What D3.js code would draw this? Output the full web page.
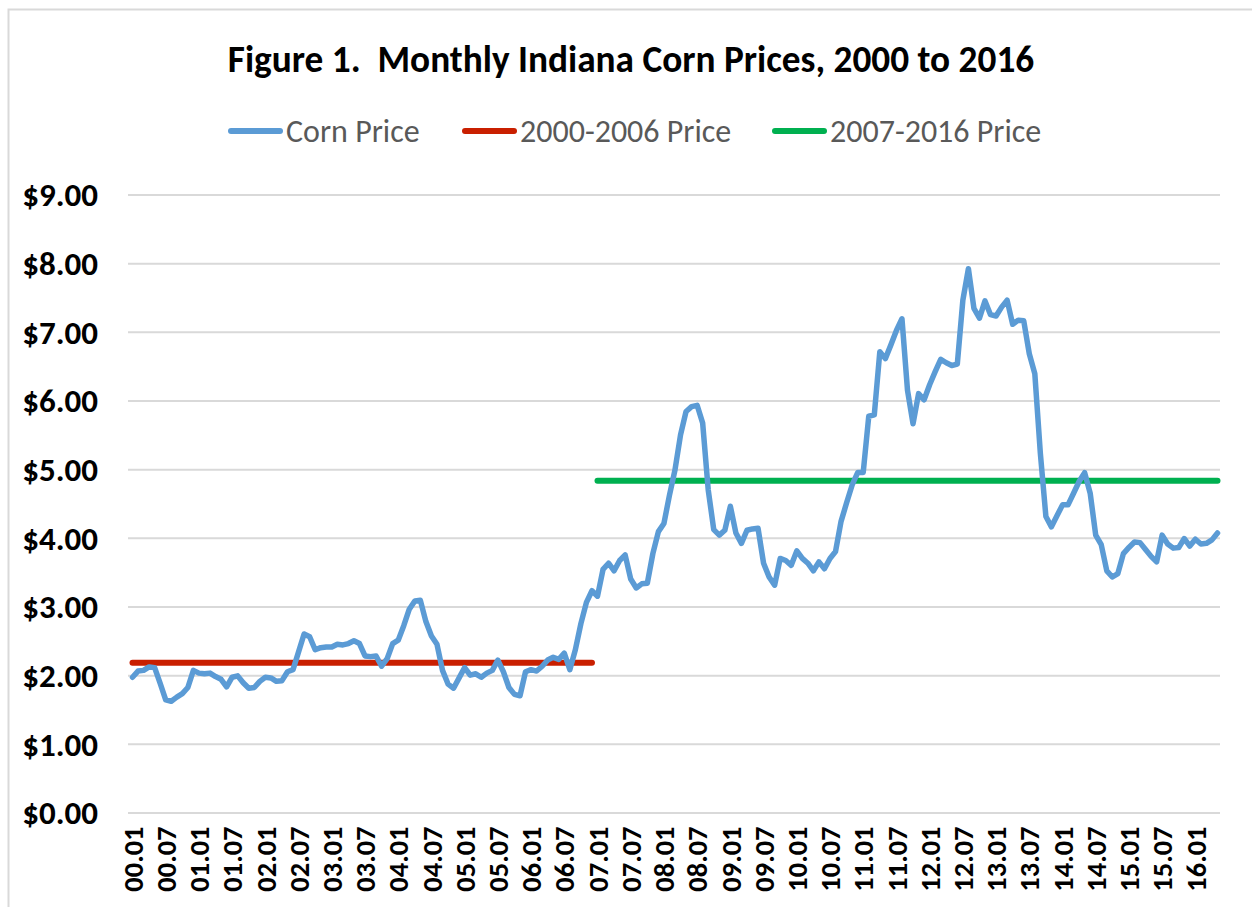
<!DOCTYPE html>
<meta charset="utf-8">
<style>
body { margin: 0; background: #fff; }
svg { display: block; font-family: Carlito, "Liberation Sans", Arial, sans-serif; }
.grid line { stroke: #d9d9d9; stroke-width: 2px; }
.grid .domain { display: none; }
.yaxis text, .xaxis text { font-family: Carlito, "Liberation Sans", Arial, sans-serif; font-weight: bold; fill: #000; }
.yaxis .domain, .xaxis .domain { display: none; }
</style>
<svg width="1252" height="907"></svg>
<script src="https://cdn.jsdelivr.net/npm/d3@7"></script>
<script>

// monthly Indiana corn price, $/bu, 2000.01 .. 2016.05
var price2000 = [1.97, 2.06, 2.07, 2.12, 2.11, 1.88, 1.64, 1.62, 1.68, 1.73, 1.82, 2.07],
    price2001 = [2.03, 2.02, 2.03, 1.98, 1.94, 1.83, 1.97, 1.99, 1.89, 1.81, 1.82, 1.91],
    price2002 = [1.97, 1.96, 1.91, 1.92, 2.05, 2.08, 2.34, 2.60, 2.56, 2.37, 2.40, 2.41],
    price2003 = [2.41, 2.45, 2.44, 2.46, 2.50, 2.46, 2.28, 2.27, 2.28, 2.13, 2.24, 2.46],
    price2004 = [2.51, 2.72, 2.96, 3.08, 3.09, 2.78, 2.57, 2.45, 2.07, 1.87, 1.81, 1.96],
    price2005 = [2.11, 2.00, 2.02, 1.97, 2.03, 2.07, 2.22, 2.05, 1.82, 1.72, 1.70, 2.05],
    price2006 = [2.08, 2.06, 2.13, 2.22, 2.26, 2.23, 2.32, 2.08, 2.37, 2.75, 3.06, 3.23],
    price2007 = [3.15, 3.54, 3.63, 3.52, 3.67, 3.75, 3.40, 3.27, 3.33, 3.34, 3.77, 4.09],
    price2008 = [4.21, 4.62, 4.99, 5.50, 5.84, 5.91, 5.93, 5.67, 4.70, 4.12, 4.04, 4.11],
    price2009 = [4.46, 4.07, 3.92, 4.11, 4.13, 4.14, 3.63, 3.43, 3.31, 3.70, 3.67, 3.60],
    price2010 = [3.81, 3.70, 3.63, 3.52, 3.65, 3.55, 3.70, 3.80, 4.24, 4.51, 4.77, 4.95],
    price2011 = [4.95, 5.77, 5.79, 6.71, 6.61, 6.81, 7.02, 7.19, 6.15, 5.66, 6.10, 6.01],
    price2012 = [6.23, 6.42, 6.60, 6.55, 6.51, 6.53, 7.46, 7.92, 7.34, 7.20, 7.45, 7.25],
    price2013 = [7.23, 7.36, 7.46, 7.11, 7.17, 7.16, 6.68, 6.39, 5.23, 4.31, 4.16, 4.32],
    price2014 = [4.48, 4.48, 4.65, 4.82, 4.95, 4.65, 4.04, 3.90, 3.52, 3.43, 3.48, 3.77],
    price2015 = [3.86, 3.94, 3.93, 3.83, 3.73, 3.65, 4.04, 3.91, 3.85, 3.86, 3.99, 3.88],
    price2016 = [3.98, 3.91, 3.92, 3.97, 4.07];

var avg0006 = 2.18,   // 2000-2006 average
    avg0716 = 4.83;   // 2007-2016 average

var tickLabels = ["00.01", "00.07", "01.01", "01.07", "02.01", "02.07", "03.01", "03.07",
    "04.01", "04.07", "05.01", "05.07", "06.01", "06.07", "07.01", "07.07", "08.01", "08.07",
    "09.01", "09.07", "10.01", "10.07", "11.01", "11.07", "12.01", "12.07", "13.01", "13.07",
    "14.01", "14.07", "15.01", "15.07", "16.01"];

var yTicks = [0, 1, 2, 3, 4, 5, 6, 7, 8, 9];

var legendItems = [
  {label: "Corn Price", color: "#5b9bd5"},
  {label: "2000-2006 Price", color: "#c91f00"},
  {label: "2007-2016 Price", color: "#00b050"}
];

var prices = [].concat(price2000, price2001, price2002, price2003, price2004, price2005,
    price2006, price2007, price2008, price2009, price2010, price2011, price2012, price2013,
    price2014, price2015, price2016);

// category keys "YY.MM"
var months = prices.map(function(d, i) {
  var yy = Math.floor(i / 12), mm = i % 12 + 1;
  return (yy < 10 ? "0" : "") + yy + "." + (mm < 10 ? "0" : "") + mm;
});

var data = months.map(function(m, i) { return {month: m, price: prices[i]}; });

var svg = d3.select("svg");

// chart area border
svg.append("rect")
    .attr("x", 8.5).attr("y", 9.5)
    .attr("width", 1300).attr("height", 1000)
    .attr("fill", "none")
    .attr("stroke", "#d9d9d9")
    .attr("stroke-width", 2);

var x = d3.scalePoint()
    .domain(months)
    .range([132.5, 1217.5]);

var y = d3.scaleLinear()
    .domain([0, 9])
    .range([812.5, 194.5]);

var plotLeft = 128, plotRight = 1220;

svg.append("g")
    .attr("class", "grid")
    .attr("transform", "translate(" + plotLeft + ",0)")
    .call(d3.axisLeft(y).tickValues(yTicks).tickSize(-(plotRight - plotLeft)).tickFormat(""));

svg.append("g")
    .attr("class", "yaxis")
    .attr("transform", "translate(98,0)")
    .call(d3.axisLeft(y).tickValues(yTicks).tickSize(0).tickPadding(0).tickFormat(d3.format("$.2f")))
  .selectAll("text")
    .style("font-size", "33px")
    .attr("dy", "0.34em");

svg.append("g")
    .attr("class", "xaxis")
    .attr("transform", "translate(0," + y(0) + ")")
    .call(d3.axisBottom(x).tickValues(tickLabels).tickSize(0))
  .selectAll("text")
    .style("font-size", "28.4px")
    .attr("transform", "rotate(-90)")
    .attr("text-anchor", "end")
    .attr("x", -14)
    .attr("y", 0)
    .attr("dy", "0.34em");

var line = d3.line()
    .x(function(d) { return x(d.month); })
    .y(function(d) { return y(d.price); });

// period averages
svg.append("line")
    .attr("x1", x("00.01")).attr("x2", x("06.12"))
    .attr("y1", y(avg0006)).attr("y2", y(avg0006))
    .attr("stroke", legendItems[1].color)
    .attr("stroke-width", 6)
    .attr("stroke-linecap", "round");

svg.append("line")
    .attr("x1", x("07.01")).attr("x2", x(months[months.length - 1]))
    .attr("y1", y(avg0716)).attr("y2", y(avg0716))
    .attr("stroke", legendItems[2].color)
    .attr("stroke-width", 6)
    .attr("stroke-linecap", "round");

svg.append("path")
    .datum(data)
    .attr("fill", "none")
    .attr("stroke", legendItems[0].color)
    .attr("stroke-width", 5.5)
    .attr("stroke-linejoin", "round")
    .attr("stroke-linecap", "round")
    .attr("d", line);

// title
svg.append("text")
    .attr("x", 631)
    .attr("y", 72)
    .attr("text-anchor", "middle")
    .style("font-size", "37.3px")
    .style("font-weight", "bold")
    .attr("fill", "#000")
    .text("Figure 1.\u00a0 Monthly Indiana Corn Prices, 2000 to 2016");

// legend
var legendX = [228, 462, 772];
var legend = svg.append("g")
  .selectAll("g")
  .data(legendItems)
  .enter().append("g")
    .attr("transform", function(d, i) { return "translate(" + legendX[i] + ",131)"; });

legend.append("line")
    .attr("x1", 3).attr("x2", 52)
    .attr("stroke", function(d) { return d.color; })
    .attr("stroke-width", 6)
    .attr("stroke-linecap", "round");

legend.append("text")
    .attr("x", 58)
    .attr("dy", "0.34em")
    .style("font-size", "32px")
    .attr("fill", "#595959")
    .text(function(d) { return d.label; });

</script>
